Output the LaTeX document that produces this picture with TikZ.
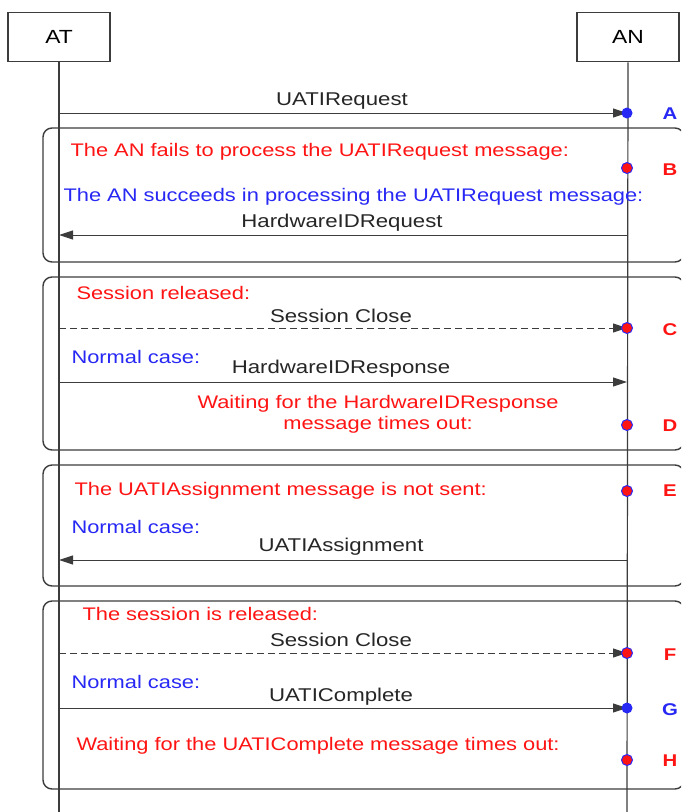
\documentclass[tikz,border=0pt]{standalone}
\usepackage{fontspec}
\setmainfont{Liberation Sans}[FakeStretch=1.2]
\usetikzlibrary{arrows.meta}
\definecolor{msgred}{RGB}{255,20,20}
\definecolor{msgblue}{RGB}{40,40,245}
\definecolor{linegray}{RGB}{60,60,60}
\tikzset{
  actor/.style={draw=linegray, line width=1.6pt, minimum width=102pt, minimum height=49pt, font=\fontsize{19}{22}\selectfont},
  lifeline/.style={draw=linegray, line width=1.2pt},
  msg/.style={draw=linegray, line width=1pt, -{Triangle[length=14pt,width=9pt]}},
  dmsg/.style={msg, dash pattern=on 7pt off 4pt},
  frame/.style={draw=linegray, line width=1.4pt, rounded corners=9pt},
  msglabel/.style={font=\fontsize{18.5}{21}\selectfont, text=black!85},
  redtxt/.style={font=\fontsize{18.2}{21}\selectfont, text=msgred, anchor=west},
  bluetxt/.style={font=\fontsize{18.2}{21}\selectfont, text=msgblue, anchor=west},
  bdot/.style={circle, fill=msgblue, inner sep=0pt, minimum size=11pt},
  rdot/.style={circle, fill=msgred, draw=msgblue, line width=1pt, inner sep=0pt, minimum size=11pt},
  rtag/.style={font=\bfseries\fontsize{17}{20}\selectfont, text=msgred},
  btag/.style={font=\bfseries\fontsize{17}{20}\selectfont, text=msgblue},
}
\begin{document}
\begin{tikzpicture}[x=1pt, y=-1pt]
\useasboundingbox (0,0) rectangle (681,812);
\clip (0,0) rectangle (681,812);
\fill[white] (0,0) rectangle (681,812);

% actors
\node[actor] (at) at (59,37) {AT};
\node[actor] (an) at (628,37) {AN};

% combined fragments
\draw[frame] (43,128) rectangle (684,262);
\draw[frame] (43,277) rectangle (684,450);
\draw[frame] (43,465) rectangle (684,586);
\draw[frame] (43,601) rectangle (684,789);

% lifelines
\coordinate (atEnd) at (59,812);
\coordinate (anEnd) at (627,812);
\draw[lifeline, line width=2pt] (at.south) -- (atEnd);
\draw[lifeline] (an.south) -- (anEnd);

% points on the lifelines
\coordinate (at1) at (59,113);  \coordinate (an1) at (627,113);
\coordinate (at2) at (59,235);  \coordinate (an2) at (627,235);
\coordinate (at3) at (59,328);  \coordinate (an3) at (627,328);
\coordinate (at4) at (59,382);  \coordinate (an4) at (627,382);
\coordinate (at5) at (59,560);  \coordinate (an5) at (627,560);
\coordinate (at6) at (59,653);  \coordinate (an6) at (627,653);
\coordinate (at7) at (59,708);  \coordinate (an7) at (627,708);

% messages
\draw[msg] (at1) -- (an1);
\node[msglabel] (l1) at (342,101) {UATIRequest};
\draw[msg] (an2) -- (at2);
\node[msglabel] (l2) at (342,223) {HardwareIDRequest};
\draw[dmsg] (at3) -- (an3);
\node[msglabel] (l3) at (341,316) {Session Close};
\draw[msg] (at4) -- (an4);
\node[msglabel] (l4) at (341,369) {HardwareIDResponse};
\draw[msg] (an5) -- (at5);
\node[msglabel] (l5) at (341,547) {UATIAssignment};
\draw[dmsg] (at6) -- (an6);
\node[msglabel] (l6) at (341,640) {Session Close};
\draw[msg] (at7) -- (an7);
\node[msglabel] (l7) at (341,697) {UATIComplete};

% condition texts
\node[redtxt] (t1) at (67,152) {The AN fails to process the UATIRequest message:};
\node[bluetxt] (t2) at (60,197) {The AN succeeds in processing the UATIRequest message:};
\node[redtxt] (t3) at (73,293) {Session released:};
\node[bluetxt] (t4) at (68,357) {Normal case:};
\node[text=msgred, font=\fontsize{18.2}{21}\selectfont, align=center] (t5) at (378,414) {Waiting for the HardwareIDResponse\\message times out:};
\node[redtxt] (t6) at (71,491) {The UATIAssignment message is not sent:};
\node[bluetxt] (t7) at (68,527) {Normal case:};
\node[redtxt] (t8) at (79,614) {The session is released:};
\node[bluetxt] (t9) at (68,682) {Normal case:};
\node[redtxt] (t10) at (73,746) {Waiting for the UATIComplete message times out:};

% state points
\node[bdot] (pA) at (an1) {};
\node[rdot] (pB) at (627,168) {};
\node[rdot] (pC) at (an3) {};
\node[rdot] (pD) at (627,425) {};
\node[rdot] (pE) at (627,491) {};
\node[rdot] (pF) at (an6) {};
\node[bdot] (pG) at (an7) {};
\node[rdot] (pH) at (627,760) {};

\node[btag] (tA) at (670,114) {A};
\node[rtag] (tB) at (670,170) {B};
\node[rtag] (tC) at (670,330) {C};
\node[rtag] (tD) at (670,426) {D};
\node[rtag] (tE) at (670,491) {E};
\node[rtag] (tF) at (670,655) {F};
\node[btag] (tG) at (670,710) {G};
\node[rtag] (tH) at (670,761) {H};
\end{tikzpicture}
\end{document}
